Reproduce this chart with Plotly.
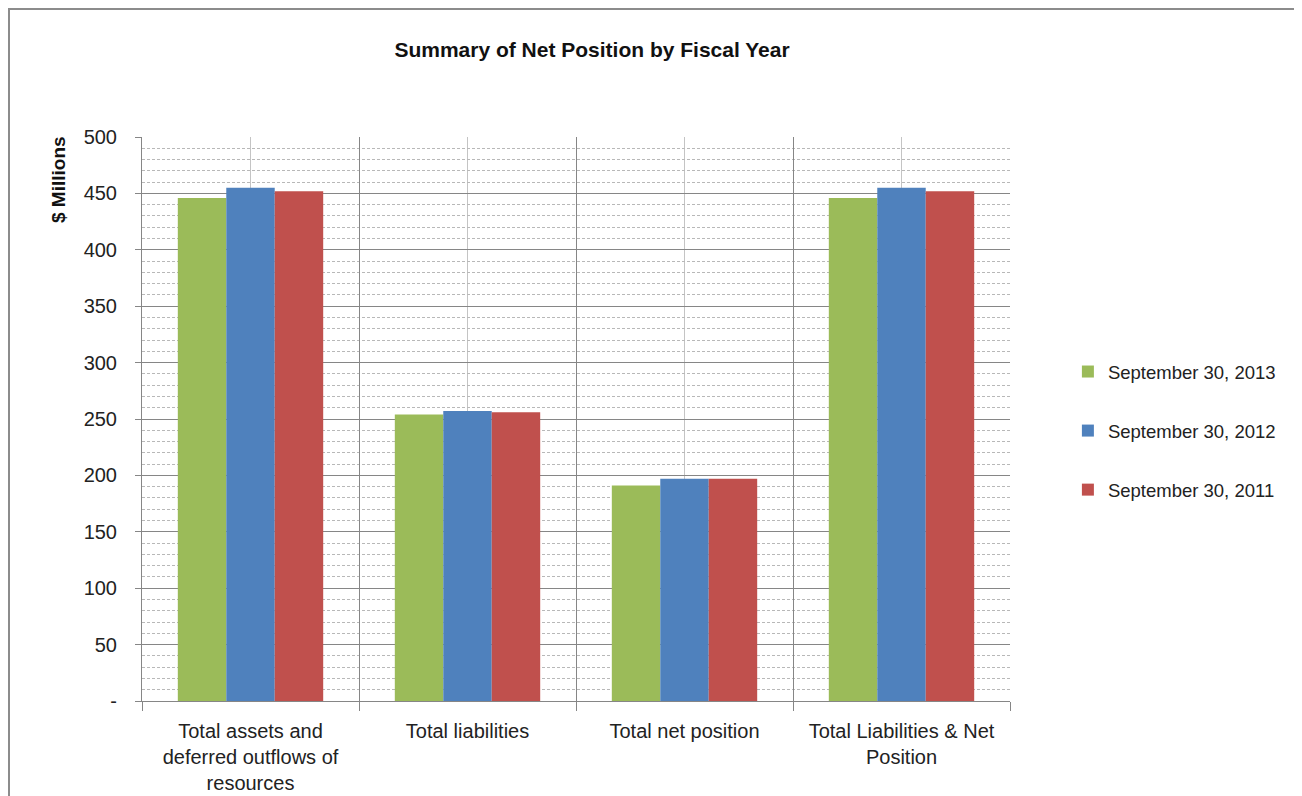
import plotly.graph_objects as go

categories = [
    "Total assets and<br>deferred outflows of<br>resources",
    "Total liabilities",
    "Total net position",
    "Total Liabilities & Net<br>Position",
]
series_names = ["September 30, 2013", "September 30, 2012", "September 30, 2011"]
values_2013 = [446, 254, 191, 446]
values_2012 = [455, 257, 197, 455]
values_2011 = [452, 256, 197, 452]
y_tickvals = [0, 50, 100, 150, 200, 250, 300, 350, 400, 450, 500]
y_ticktext = ["-", "50", "100", "150", "200", "250", "300", "350", "400", "450", "500"]

COLORS = ["#9BBB59", "#4F81BD", "#C0504D"]
FONT = "Liberation Sans, Arial, sans-serif"

# page body adds an 8px margin, so the figure is a bit smaller and shifted
W, H = 1294, 788
L, T, R, B = 134, 129, 292, 95
PW, PH = W - L - R, H - T - B

fig = go.Figure()
for name, vals, color in zip(series_names, [values_2013, values_2012, values_2011], COLORS):
    fig.add_trace(go.Bar(
        x=categories, y=vals, name=name, marker_color=color,
        marker_line_width=0, legendgroup=name
    ))

# lighter vertical lines at the category centres
for cat in categories:
    fig.add_shape(type="line", xref="x", yref="paper", x0=cat, x1=cat, y0=0, y1=1,
                  line=dict(color="#C4C4C4", width=1), layer="below")

# outer chart border (left and top edges visible)
fig.add_shape(type="rect", xref="paper", yref="paper",
              x0=(1 - L) / PW, x1=1.6, y0=-0.5, y1=1 + (T - 1) / PH,
              line=dict(color="#8C8C8C", width=2), layer="below")

fig.update_layout(
    width=W, height=H,
    margin=dict(l=L, r=R, t=T, b=B),
    paper_bgcolor="white", plot_bgcolor="white",
    font=dict(family=FONT, size=20, color="#222222"),
    title=dict(text="<b>Summary of Net Position by Fiscal Year</b>",
               x=(584 - L) / PW, xref="paper", xanchor="center",
               y=1 - 42 / H, yanchor="middle",
               font=dict(family=FONT, size=21, color="#111111")),
    barmode="group", bargap=0.33, bargroupgap=0,
    showlegend=True,
    legend=dict(x=1.0667, xanchor="left", y=(H - B - 423) / PH, yanchor="middle",
                tracegroupgap=32, traceorder="grouped",
                font=dict(family=FONT, size=18.5, color="#222222")),
    xaxis=dict(
        tickson="boundaries", ticks="outside", ticklen=9, tickcolor="#868686",
        ticklabelstandoff=12, automargin=False,
        showgrid=True, gridcolor="#868686", gridwidth=1,
        showline=True, linecolor="#868686", linewidth=1,
        tickfont=dict(size=20),
    ),
    yaxis=dict(
        range=[0, 500], tickvals=y_tickvals, ticktext=y_ticktext,
        ticks="outside", ticklen=6, tickcolor="#868686", ticklabelstandoff=14,
        automargin=False,
        showgrid=True, gridcolor="#868686", gridwidth=1,
        showline=True, linecolor="#868686", linewidth=1,
        zeroline=False,
        minor=dict(dtick=10, showgrid=True, gridcolor="#B8B8B8", griddash="3px,2px", gridwidth=1),
        tickfont=dict(size=20),
    ),
)

fig.add_annotation(text="<b>$ Millions</b>", textangle=-90, xref="paper", yref="paper",
                   x=(50 - L) / PW, y=(H - B - 172) / PH, showarrow=False,
                   xanchor="center", yanchor="middle",
                   font=dict(family=FONT, size=19, color="#111111"))

fig.write_html("out.html")
